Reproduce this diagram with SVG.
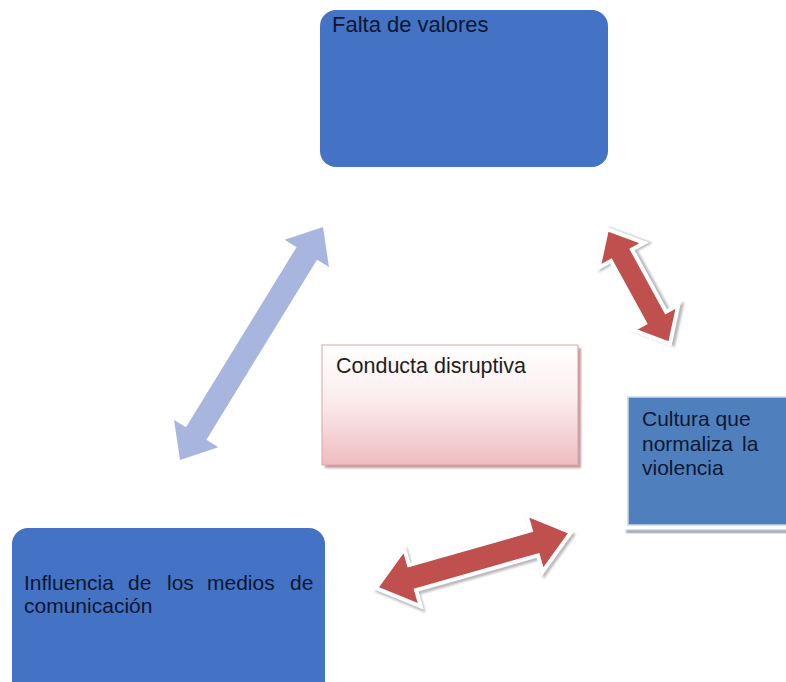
<svg xmlns="http://www.w3.org/2000/svg" width="786" height="682" viewBox="0 0 786 682">
  <style>
    .lbl { font-family: "Liberation Sans", Arial, sans-serif; font-size: 21px; }
    .onblue { fill: #0d1730; }
    .dark { fill: #1e1e1e; }
    .blueBox { fill: #4472c4; }
    .redArrow { fill: #c0504d; stroke: #ffffff; stroke-width: 4; stroke-linejoin: miter; }
    .redShadow { fill: #b9b9b9; stroke: #b9b9b9; stroke-width: 4; }
    .blueArrow { fill: #a8b6df; }
  </style>
  <defs>
    <linearGradient id="pinkGrad" x1="0" y1="0" x2="0" y2="1">
      <stop offset="0" stop-color="#ffffff"/>
      <stop offset="0.45" stop-color="#fbecee"/>
      <stop offset="1" stop-color="#efbcc0"/>
    </linearGradient>
    <filter id="soft" x="-20%" y="-20%" width="140%" height="140%">
      <feGaussianBlur stdDeviation="1.2"/>
    </filter>
  </defs>

  <rect width="786" height="682" fill="#ffffff"/>

  <g id="connectors">
    <!-- blue double arrow: Influencia <-> Falta de valores -->
    <g id="arrow-blue" transform="translate(180,460) rotate(-58.46)">
      <path class="blueArrow" d="M0,0 L31,-26 L31,-12 L242.4,-12 L242.4,-26 L273.4,0 L242.4,26 L242.4,12 L31,12 L31,26 Z"/>
    </g>
    <!-- red double arrow: Falta de valores <-> Cultura -->
    <g id="arrow-red-right" transform="translate(607,229) rotate(61.24)">
      <path class="redShadow" filter="url(#soft)" transform="translate(2,-2.5)" d="M0,0 L30,-26 L30,-12 L100.9,-12 L100.9,-26 L130.9,0 L100.9,26 L100.9,12 L30,12 L30,26 Z"/>
      <path class="redArrow" d="M0,0 L30,-26 L30,-12 L100.9,-12 L100.9,-26 L130.9,0 L100.9,26 L100.9,12 L30,12 L30,26 Z"/>
    </g>
    <!-- red double arrow: Influencia <-> Cultura -->
    <g id="arrow-red-bottom" transform="translate(376,588) rotate(-15.9)">
      <path class="redShadow" filter="url(#soft)" transform="translate(1,3)" d="M0,0 L38,-30 L38,-13 L164.7,-13 L164.7,-30 L202.7,0 L164.7,30 L164.7,13 L38,13 L38,30 Z"/>
      <path class="redArrow" d="M0,0 L38,-30 L38,-13 L164.7,-13 L164.7,-30 L202.7,0 L164.7,30 L164.7,13 L38,13 L38,30 Z"/>
    </g>
  </g>

  <g id="node-falta">
    <rect class="blueBox" x="320" y="10" width="288" height="157" rx="16"/>
    <text class="lbl onblue" x="332" y="32" style="font-size:22px">Falta de valores</text>
  </g>

  <g id="node-conducta">
    <rect x="325" y="348" width="256" height="120" fill="#c39a9e" filter="url(#soft)"/>
    <rect x="322" y="345" width="256" height="120" fill="url(#pinkGrad)" stroke="#dba4a8" stroke-width="1"/>
    <text class="lbl dark" x="336" y="373" style="font-size:21.5px">Conducta disruptiva</text>
  </g>

  <g id="node-cultura">
    <rect x="626" y="530" width="170" height="3" fill="#8f9db3" filter="url(#soft)"/>
    <rect x="628" y="397" width="170" height="128" fill="#4f80bd" stroke="#c9d6ea" stroke-width="1.5"/>
    <text class="lbl onblue" x="642" y="426">Cultura que</text>
    <text class="lbl onblue" y="451"><tspan x="642">normaliza</tspan><tspan x="742">la</tspan></text>
    <text class="lbl onblue" x="642" y="475">violencia</text>
  </g>

  <g id="node-influencia">
    <rect class="blueBox" x="12" y="528" width="313" height="175" rx="16"/>
    <text class="lbl onblue" y="590"><tspan x="24">Influencia</tspan><tspan x="128">de</tspan><tspan x="167">los</tspan><tspan x="207">medios</tspan><tspan x="290">de</tspan></text>
    <text class="lbl onblue" x="24" y="613">comunicación</text>
  </g>
</svg>
